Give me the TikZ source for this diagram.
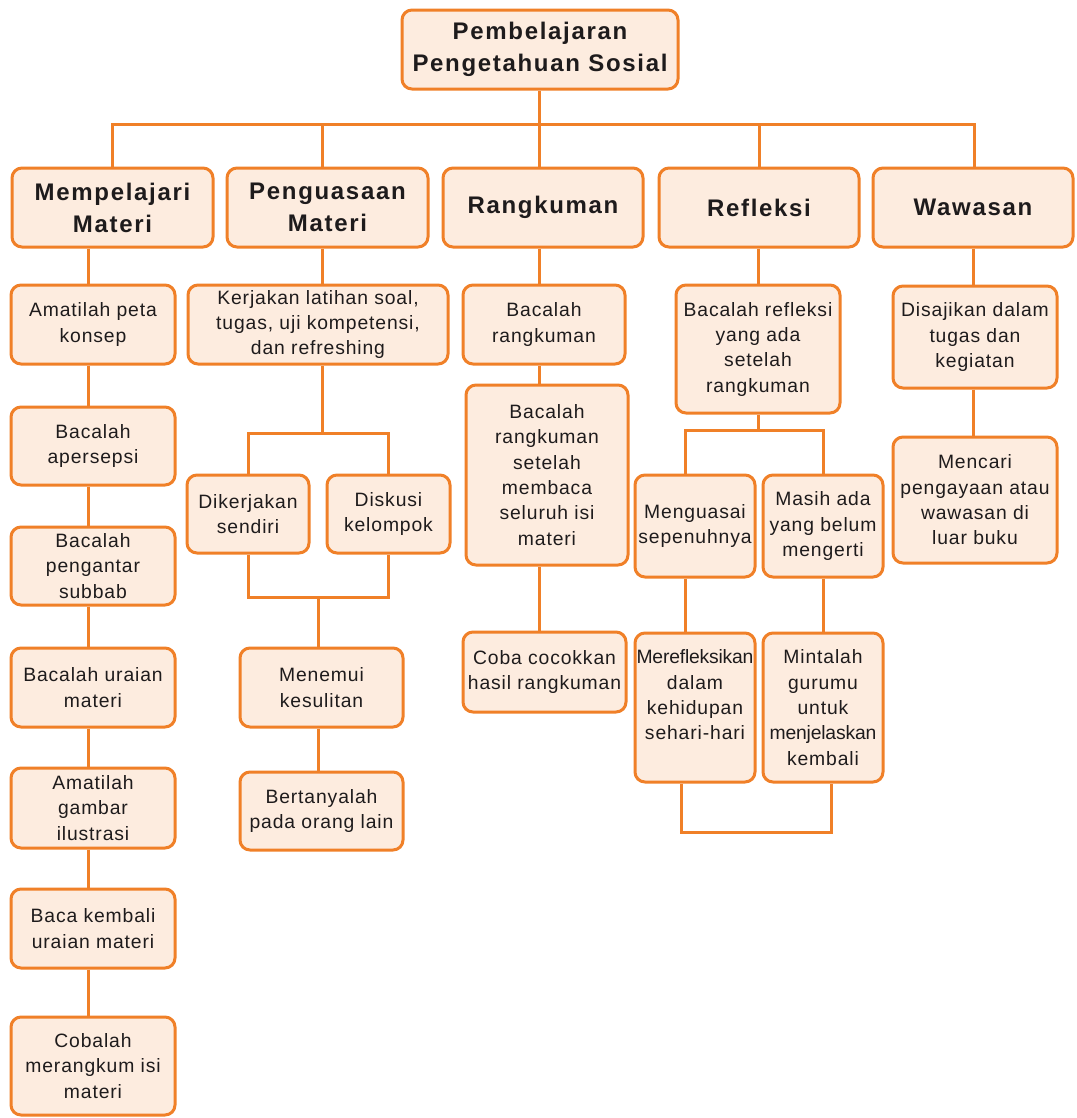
\documentclass[tikz,border=0pt]{standalone}
\usepackage{fontspec}
\setmainfont{Liberation Sans}[LetterSpace=4.5]
\newfontfamily\hdfont{Liberation Sans}[LetterSpace=7]
\newfontfamily\tightfont{Liberation Sans}[LetterSpace=-1]
\definecolor{orng}{RGB}{240,128,40}
\definecolor{peach}{RGB}{253,236,223}
\definecolor{txt}{RGB}{30,27,28}
\newcommand\mybox[7]{\node[#1,minimum width={(#5-#3)*0.75pt},minimum height={(#6-#4)*0.75pt}] (#2) at ({(#3+#5)/2},{(#4+#6)/2}) {#7};}
\begin{document}
\begin{tikzpicture}[x=0.75pt,y=-0.75pt,
  bx/.style={draw=orng,fill=peach,line width=2.25pt,rounded corners=7.5pt,align=center,inner sep=0pt,text=txt,font=\fontsize{14.5}{19}\selectfont},
  hd/.style={bx,font=\hdfont\bfseries\fontsize{18}{24}\selectfont},
  ln/.style={draw=orng,line width=2.25pt}]
\useasboundingbox[fill=white] (0,0) rectangle (1076,1118);

% coordinates for connector lines
\coordinate (busL) at (112,124);
\coordinate (busR) at (974,124);
\coordinate (x322) at (322,124);
\coordinate (x539) at (539,124);
\coordinate (x759) at (759,124);
\coordinate (k1) at (88,0);
\coordinate (k2) at (322,433);
\coordinate (k3) at (318,597);
\coordinate (k4) at (539,0);
\coordinate (k5) at (758,430);
\coordinate (k6) at (685,0);
\coordinate (k7) at (823,0);
\coordinate (k8) at (756,832);
\coordinate (k9) at (681,0);
\coordinate (k10) at (831,0);
\coordinate (k11) at (973,0);

% boxes
\mybox{hd}{top}{402}{10}{678}{89}{Pembelajaran\\Pengetahuan Sosial}
\mybox{hd}{h1}{12}{168}{213}{247}{Mempelajari\\Materi}
\mybox{hd}{h2}{227}{168}{428}{247}{Penguasaan\\Materi}
\mybox{hd}{h3}{443}{168}{643}{247}{Rangkuman}
\mybox{hd}{h4}{659}{168}{859}{247}{Refleksi}
\mybox{hd}{h5}{873}{168}{1073}{247}{Wawasan}

\mybox{bx}{a1}{11}{285}{175}{364}{Amatilah peta\\konsep}
\mybox{bx}{a2}{11}{407}{175}{485}{Bacalah\\apersepsi}
\mybox{bx}{a3}{11}{527}{175}{605}{Bacalah\\pengantar\\subbab}
\mybox{bx}{a4}{11}{648}{175}{727}{Bacalah uraian\\materi}
\mybox{bx}{a5}{11}{768}{175}{848}{Amatilah\\gambar\\ilustrasi}
\mybox{bx}{a6}{11}{889}{175}{968}{Baca kembali\\uraian materi}
\mybox{bx}{a7}{11}{1017}{175}{1115}{Cobalah\\merangkum isi\\materi}

\mybox{bx}{b1}{188}{285}{448}{364}{Kerjakan latihan soal,\\tugas, uji kompetensi,\\dan refreshing}
\mybox{bx}{b2}{187}{475}{309}{553}{Dikerjakan\\sendiri}
\mybox{bx}{b3}{327}{475}{450}{553}{Diskusi\\kelompok}
\mybox{bx}{b4}{240}{648}{403}{727}{Menemui\\kesulitan}
\mybox{bx}{b5}{240}{772}{403}{850}{Bertanyalah\\pada orang lain}

\mybox{bx}{c1}{463}{285}{625}{364}{Bacalah\\rangkuman}
\mybox{bx}{c2}{466}{385}{628}{565}{Bacalah\\rangkuman\\setelah\\membaca\\seluruh isi\\materi}
\mybox{bx}{c3}{463}{632}{626}{712}{Coba cocokkan\\hasil rangkuman}

\mybox{bx}{d1}{676}{285}{840}{413}{Bacalah refleksi\\yang ada\\setelah\\rangkuman}
\mybox{bx}{d2}{635}{475}{755}{577}{Menguasai\\sepenuhnya}
\mybox{bx}{d3}{763}{475}{883}{577}{Masih ada\\yang belum\\mengerti}
\mybox{bx}{d4}{635}{633}{755}{782}{{\tightfont Merefleksikan}\\dalam\\kehidupan\\sehari-hari\\\mbox{}}
\mybox{bx}{d5}{763}{633}{883}{782}{Mintalah\\gurumu\\untuk\\{\tightfont menjelaskan}\\kembali}

\mybox{bx}{e1}{893}{286}{1057}{388}{Disajikan dalam\\tugas dan\\kegiatan}
\mybox{bx}{e2}{893}{437}{1057}{563}{Mencari\\pengayaan atau\\wawasan di\\luar buku}

% connectors
\draw[ln] (top.south -| x539) -- (h3.north -| x539);
\draw[ln] (h1.north -| busL) -- (busL) -- (busR) -- (h5.north -| busR);
\draw[ln] (x322) -- (h2.north -| x322);
\draw[ln] (x759) -- (h4.north -| x759);

\draw[ln] (h1.south -| k1) -- (a1.north -| k1);
\draw[ln] (a1.south -| k1) -- (a2.north -| k1);
\draw[ln] (a2.south -| k1) -- (a3.north -| k1);
\draw[ln] (a3.south -| k1) -- (a4.north -| k1);
\draw[ln] (a4.south -| k1) -- (a5.north -| k1);
\draw[ln] (a5.south -| k1) -- (a6.north -| k1);
\draw[ln] (a6.south -| k1) -- (a7.north -| k1);

\draw[ln] (h2.south -| k2) -- (b1.north -| k2);
\draw[ln] (b1.south -| k2) -- (k2);
\draw[ln] (b2.north) |- (k2) -| (b3.north);
\draw[ln] (b2.south) |- (k3) -| (b3.south);
\draw[ln] (k3) -- (b4.north -| k3);
\draw[ln] (b4.south -| k3) -- (b5.north -| k3);

\draw[ln] (h3.south -| k4) -- (c1.north -| k4);
\draw[ln] (c1.south -| k4) -- (c2.north -| k4);
\draw[ln] (c2.south -| k4) -- (c3.north -| k4);

\draw[ln] (h4.south -| k5) -- (d1.north -| k5);
\draw[ln] (d1.south -| k5) -- (k5);
\draw[ln] (d2.north -| k6) |- (k5) -| (d3.north -| k7);
\draw[ln] (d2.south -| k6) -- (d4.north -| k6);
\draw[ln] (d3.south -| k7) -- (d5.north -| k7);
\draw[ln] (d4.south -| k9) |- (k8) -| (d5.south -| k10);

\draw[ln] (h5.south -| k11) -- (e1.north -| k11);
\draw[ln] (e1.south -| k11) -- (e2.north -| k11);
\end{tikzpicture}
\end{document}
